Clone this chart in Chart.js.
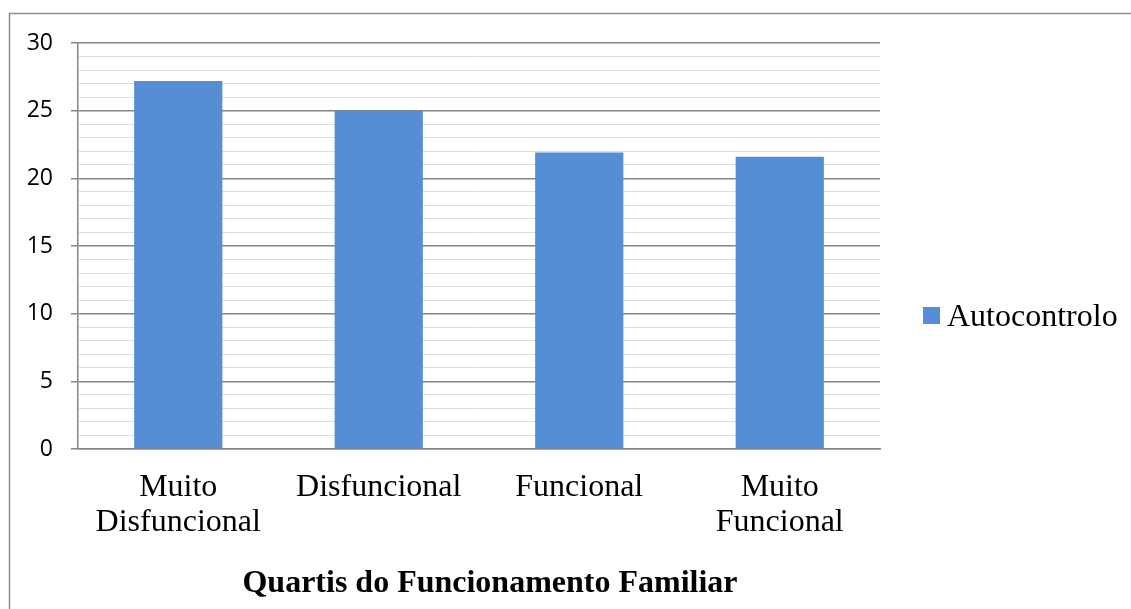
<!DOCTYPE html>
<html>
<head>
<meta charset="utf-8">
<script src="https://cdn.jsdelivr.net/npm/chart.js@4/dist/chart.umd.min.js"></script>
<style>
  html, body { margin: 0; padding: 0; background: #fff; }
  #wrap { width: 1131px; height: 609px; position: relative; }
</style>
</head>
<body>
<div id="wrap"><canvas id="myBarChart" width="1131" height="609"></canvas></div>
<script>
// Data
var categories = [['Muito', 'Disfuncional'], 'Disfuncional', 'Funcional', ['Muito', 'Funcional']];
var autocontrolo = [27.2, 25.0, 21.9, 21.6];
var yTickLabels = [0, 5, 10, 15, 20, 25, 30];
var seriesName = 'Autocontrolo';
var xTitle = 'Quartis do Funcionamento Familiar';

var barColor = '#558ED5';
var majorGrid = '#868686';
var minorGrid = '#dedede';

function isMajor(v) {
    return yTickLabels.indexOf(v) !== -1;
}

// Frame, title and legend drawn on top of the chart
var extras = {
    id: 'extras',
    afterDraw: function (chart) {
        var ctx = chart.ctx;
        var area = chart.chartArea;
        ctx.save();
        // outer frame
        ctx.strokeStyle = '#8e8e8e';
        ctx.lineWidth = 1.5;
        ctx.strokeRect(9.5, 13.5, 1140, 620);
        // axis title
        ctx.fillStyle = '#000';
        ctx.font = 'bold 32px "Liberation Serif", "Times New Roman", serif';
        ctx.textAlign = 'center';
        ctx.textBaseline = 'alphabetic';
        ctx.fillText(xTitle, 490, 592);
        // legend
        ctx.fillStyle = barColor;
        ctx.fillRect(area.right + 43, 307, 17, 17);
        ctx.fillStyle = '#000';
        ctx.font = '32px "Liberation Serif", "Times New Roman", serif';
        ctx.textAlign = 'left';
        ctx.fillText(seriesName, area.right + 67, 326);
        ctx.restore();
    }
};

var ctx = document.getElementById('myBarChart').getContext('2d');
var BarChart = new Chart(ctx, {
    type: 'bar',
    data: {
        labels: categories,
        datasets: [{
            label: seriesName,
            data: autocontrolo,
            backgroundColor: barColor,
            borderWidth: 0,
            barPercentage: 0.44,
            categoryPercentage: 1.0
        }]
    },
    options: {
        responsive: false,
        animation: false,
        layout: {
            padding: { top: 43, right: 251, left: 0, bottom: 0 }
        },
        plugins: {
            legend: { display: false },
            tooltip: { enabled: false }
        },
        scales: {
            x: {
                grid: { display: false, drawTicks: false },
                border: { display: true, color: majorGrid, width: 1.5 },
                ticks: {
                    color: '#000',
                    padding: 21,
                    maxRotation: 0,
                    autoSkip: false,
                    font: { family: '"Liberation Serif", "Times New Roman", serif', size: 32, lineHeight: 1.1 }
                },
                afterFit: function (scale) { scale.height = 160; }
            },
            y: {
                min: 0,
                max: 30,
                ticks: {
                    stepSize: 1,
                    autoSkip: false,
                    color: '#000',
                    padding: 18,
                    font: { family: '"Open Sans", sans-serif', size: 23 },
                    callback: function (v) { return isMajor(v) ? String(v) : ''; }
                },
                grid: {
                    color: function (c) { return isMajor(c.tick.value) ? majorGrid : minorGrid; },
                    lineWidth: function (c) { return isMajor(c.tick.value) ? 1.5 : 1; },
                    tickLength: 7,
                    tickColor: function (c) { return isMajor(c.tick.value) ? majorGrid : 'rgba(0,0,0,0)'; }
                },
                border: { display: true, color: majorGrid, width: 1.5 },
                afterFit: function (scale) { scale.width = 78; }
            }
        }
    },
    plugins: [extras]
});
</script>
</body>
</html>
